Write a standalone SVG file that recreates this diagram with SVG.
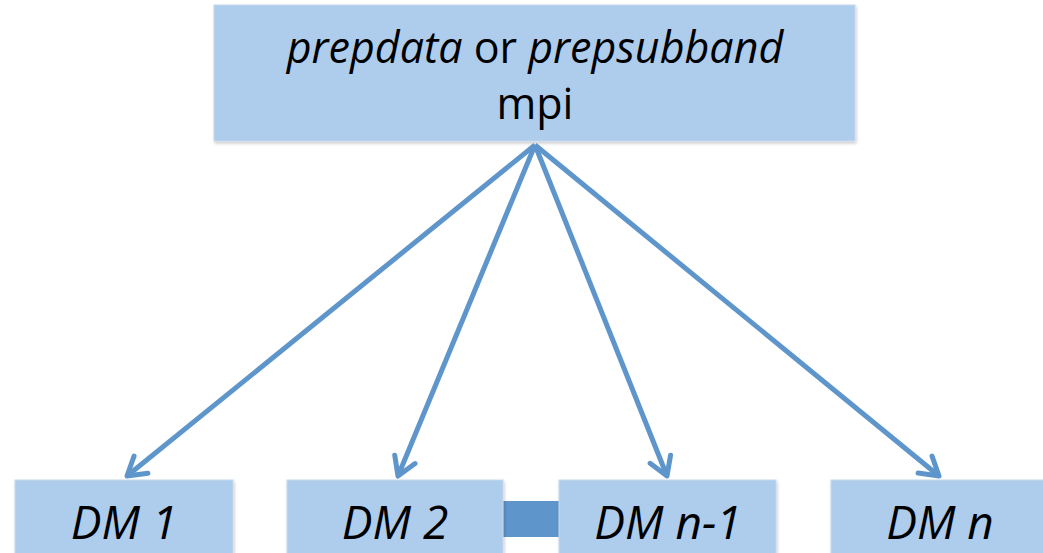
<svg xmlns="http://www.w3.org/2000/svg" width="1043" height="553" viewBox="0 0 1043 553">
<defs>
<style>
.box{fill:#aecceb;stroke:#c6d9ee;stroke-width:1}
.t{font-family:"Open Sans","Liberation Sans",sans-serif;font-size:43px;fill:#000;text-anchor:middle}
.d{font-size:46px;font-style:italic}
.i{font-style:italic}
.c{stroke:#5e95cb;stroke-width:5;fill:none}
</style>
<marker id="ah" markerUnits="userSpaceOnUse" markerWidth="40" markerHeight="40" refX="20" refY="20" orient="auto" overflow="visible">
<polyline points="2,9 20,20 2,31" fill="none" stroke="#5e95cb" stroke-width="5" stroke-linecap="round" stroke-linejoin="round"/>
</marker>
<filter id="sh" x="-5%" y="-5%" width="110%" height="115%"><feDropShadow dx="1" dy="2" stdDeviation="1.5" flood-color="#000" flood-opacity="0.2"/></filter>
</defs>
<rect width="1043" height="553" fill="#fff"/>
<g id="top">
<rect class="box" x="214" y="5" width="641" height="136" filter="url(#sh)"/>
<text class="t" x="535" y="63"><tspan class="i">prepdata</tspan> or <tspan class="i">prepsubband</tspan></text>
<text class="t" x="535" y="119">mpi</text>
</g>
<g id="connectors">
<line class="c" x1="535" y1="145" x2="127" y2="476" marker-end="url(#ah)"/>
<line class="c" x1="535" y1="145" x2="398" y2="476" marker-end="url(#ah)"/>
<line class="c" x1="535" y1="145" x2="667" y2="476" marker-end="url(#ah)"/>
<line class="c" x1="535" y1="145" x2="939" y2="476" marker-end="url(#ah)"/>
<rect x="503" y="501" width="56" height="36" fill="#5e95cb"/>
</g>
<g id="dm1">
<rect class="box" x="15" y="480" width="218" height="90" filter="url(#sh)"/>
<text class="t d" x="124" y="539">DM 1</text>
</g>
<g id="dm2">
<rect class="box" x="287" y="480" width="216" height="90" filter="url(#sh)"/>
<text class="t d" x="395" y="539">DM 2</text>
</g>
<g id="dmn1">
<rect class="box" x="559" y="480" width="217" height="90" filter="url(#sh)"/>
<text class="t d" x="668" y="539">DM n-1</text>
</g>
<g id="dmn">
<rect class="box" x="831" y="480" width="230" height="90" filter="url(#sh)"/>
<text class="t d" x="940" y="539">DM n</text>
</g>
</svg>
